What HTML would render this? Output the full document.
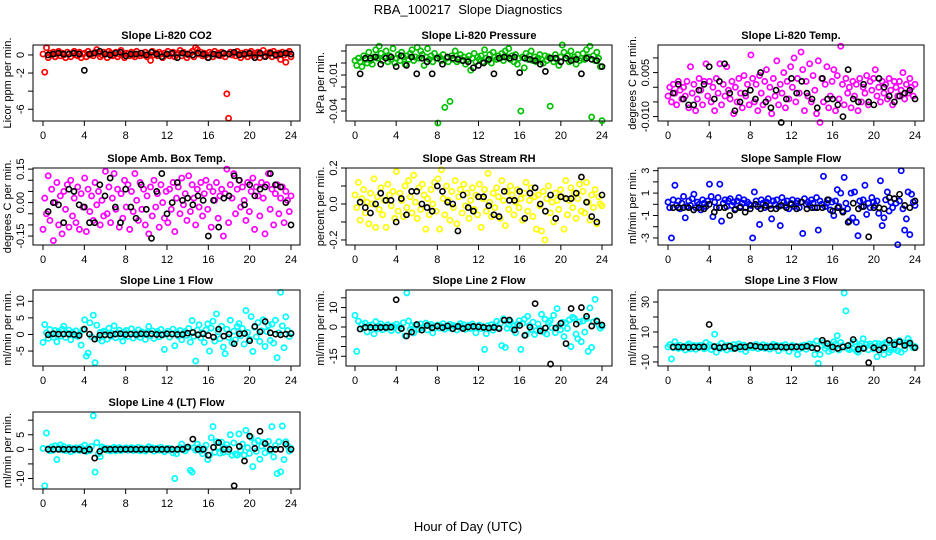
<!DOCTYPE html>
<html><head><meta charset="utf-8"><style>
html,body{margin:0;padding:0;background:#fff;}
svg{display:block;font-family:"Liberation Sans",sans-serif;}
</style></head><body>
<svg id="chart" width="936" height="540" viewBox="0 0 936 540" xmlns="http://www.w3.org/2000/svg">
<rect width="936" height="540" fill="#fff"/>
<text x="468" y="14" text-anchor="middle" font-size="13">RBA_100217&#160; Slope Diagnostics</text>
<text x="468" y="531" text-anchor="middle" font-size="13">Hour of Day (UTC)</text>
</svg>
<script>
const xTicks = [0,4,8,12,16,20,24];
const panelTitles = ["Slope Li-820 CO2","Slope Li-820 Pressure","Slope Li-820 Temp.","Slope Amb. Box Temp.","Slope Gas Stream RH","Slope Sample Flow","Slope Line 1 Flow","Slope Line 2 Flow","Slope Line 3 Flow","Slope Line 4 (LT) Flow"];
const yLabels = ["Licor ppm per min.","kPa per min.","degrees C per min.","degrees C per min.","percent per min.","ml/min per min.","ml/min per min.","ml/min per min.","ml/min per min.","ml/min per min."];
const yTicks = [[0,-2,-4,-6],[0.01,0,-0.01,-0.02,-0.03,-0.04],[0.01,0.005,0,-0.005,-0.01],[0.15,0.1,0.05,0,-0.05,-0.1,-0.15],[0.2,0.1,0,-0.1,-0.2],[3,2,1,0,-1,-2,-3],[10,5,0,-5],[15,10,5,0,-5,-10,-15],[30,20,10,0,-10],[10,5,0,-5,-10]];
const yTickLabels = [["0","-2","","-6"],["","","-0.01","","","-0.04"],["","0.005","","","-0.010"],["0.15","","","0.00","","","-0.15"],["0.2","","0.0","","-0.2"],["3","","1","","-1","","-3"],["10","5","0","-5"],["","10","","0","","","-15"],["30","","10","","-10"],["","5","0","","-10"]];
const yDomains = [[-7.3,1.1],[-0.0483,0.015],[-0.0115,0.0144],[-0.19,0.155],[-0.228,0.2],[-3.63,3.24],[-9.5,13.4],[-20,19],[-12.7,38],[-13.6,12.8]];
const seriesColors = ["#ff0000","#00c000","#ff00ff","#ff00ff","#ffff00","#0000ff","#00ffff","#00ffff","#00ffff","#00ffff"];

const c1 = [0.1,-1.9,0.8,-0.3,0.2,0.0,0.3,-0.2,0.1,0.4,-0.1,0.2,0.0,-0.3,0.3,0.1,-0.2,0.2,0.4,0.0,-0.1,0.3,-0.3,0.1,0.2,-0.2,0.4,0.0,0.1,-0.1,0.3,0.6,0.2,-0.2,0.0,0.3,0.1,-0.3,0.4,0.2,-0.1,0.0,0.3,-0.2,0.1,0.5,0.0,-0.3,0.2,0.1,-0.1,0.3,0.0,-0.2,0.4,0.1,-0.1,0.2,0.0,0.3,-0.2,0.1,-0.6,0.4,0.0,0.2,-0.1,0.3,0.1,-0.3,0.2,0.0,0.4,-0.1,0.1,0.3,-0.2,0.0,0.2,0.5,-0.1,0.3,0.1,-0.3,0.0,0.2,0.4,-0.2,0.8,0.6,0.1,0.3,-0.1,0.2,0.0,-0.3,0.3,0.1,-0.2,0.4,0.0,0.2,-0.1,0.3,0.1,-0.2,-4.3,-7.0,0.3,0.0,0.2,-0.1,0.4,0.1,-0.3,0.2,0.0,0.3,-0.2,0.1,0.4,-0.1,0.2,0.0,0.3,-0.3,0.1,0.5,-0.1,0.2,0.0,0.3,-0.2,0.4,0.1,-0.1,0.2,-0.5,0.3,0.0,-0.8,0.2,0.4,-0.2];
const b1 = [0.0,0.1,0.2,0.1,0.1,0.2,0.1,-1.7,0.1,0.2,0.4,0.1,0.0,0.2,0.3,-0.1,0.1,0.1,0.2,0.0,0.3,0.1,-0.2,0.1,0.2,-0.3,0.2,0.1,0.0,0.2,0.1,-0.3,0.1,0.0,0.2,0.1,0.3,0.0,0.1,0.2,-0.3,0.2,-0.2,0.2,0.0,0.1,0.2,0.1];
const c2 = [0.002,-0.002,0.004,0.001,-0.003,0.006,0.003,0.000,0.009,0.002,-0.001,0.005,0.011,0.004,0.014,0.008,0.002,0.005,0.010,0.001,0.006,0.003,0.012,0.000,0.004,0.007,0.002,0.009,0.005,-0.001,0.006,0.003,0.008,0.011,0.002,0.005,0.013,0.004,0.010,0.007,-0.002,0.005,0.012,0.003,0.006,0.001,0.008,0.004,-0.050,0.005,0.002,0.007,-0.037,0.004,0.001,-0.032,0.006,0.003,0.010,0.001,0.004,0.007,0.002,0.005,-0.001,0.003,0.006,-0.006,0.004,0.008,0.001,0.005,0.003,0.006,0.001,0.011,0.004,0.002,0.007,0.000,0.009,0.005,0.003,0.006,0.004,0.008,0.002,0.010,0.005,0.012,0.003,0.006,0.001,0.007,-0.001,0.004,-0.040,0.005,-0.004,0.008,0.003,0.006,0.010,0.002,0.005,0.001,0.004,0.007,0.003,0.000,0.006,0.002,0.005,-0.036,0.004,0.001,0.007,0.003,-0.002,0.005,0.015,0.009,0.004,0.006,0.001,0.010,0.003,0.005,-0.001,0.007,0.002,0.004,0.008,0.003,0.011,0.005,0.014,-0.045,0.006,0.002,0.009,0.004,-0.003,-0.048];
const b2 = [-0.009,0.004,0.004,0.005,-0.001,0.004,0.005,-0.003,0.006,-0.002,0.005,-0.009,0.004,0.001,-0.009,0.004,-0.001,0.005,0.004,0.003,0.002,0.001,-0.004,-0.002,0.000,0.003,-0.009,0.004,0.005,0.004,0.005,-0.008,0.004,0.003,0.002,-0.001,-0.007,0.004,0.004,0.001,0.004,0.002,0.003,-0.009,0.004,0.003,0.002,-0.003];
const c3 = [-0.003,0.000,-0.005,0.001,-0.002,-0.006,0.002,-0.001,-0.004,0.000,-0.003,0.002,-0.007,0.007,-0.002,0.001,-0.008,-0.004,0.003,-0.001,-0.006,0.002,0.008,-0.003,0.002,-0.005,0.000,-0.008,0.003,-0.002,0.008,-0.006,0.001,-0.003,0.007,-0.001,-0.004,0.002,-0.009,0.000,-0.005,0.003,-0.002,-0.007,0.004,-0.003,0.001,-0.006,0.011,0.003,-0.005,0.001,-0.008,0.004,-0.002,-0.006,0.002,0.006,-0.004,0.000,-0.009,0.003,-0.003,0.009,-0.006,0.001,-0.002,0.005,-0.007,0.002,-0.004,0.007,0.000,0.010,-0.005,0.003,-0.002,0.012,0.006,-0.008,0.002,-0.003,0.008,-0.005,0.004,-0.001,-0.009,0.009,-0.012,0.003,-0.005,0.001,0.007,-0.007,-0.003,0.002,0.006,-0.008,0.004,-0.004,0.014,0.001,-0.006,0.003,-0.002,0.000,-0.007,0.002,-0.003,0.001,-0.008,0.003,-0.005,0.000,-0.002,0.004,-0.006,0.002,-0.001,0.003,0.006,-0.003,0.000,-0.005,0.002,-0.002,0.001,-0.004,0.003,-0.001,-0.006,0.002,0.000,-0.003,0.002,-0.001,0.005,-0.004,0.001,-0.002,0.003,0.000,-0.003,0.001];
const b3 = [-0.002,0.001,-0.004,-0.006,-0.006,-0.001,0.001,0.007,-0.004,0.002,0.008,-0.002,-0.008,-0.005,-0.002,-0.001,-0.004,0.005,-0.005,-0.007,-0.001,-0.012,-0.004,0.003,-0.002,0.002,-0.002,-0.004,-0.007,0.003,-0.004,-0.004,-0.006,-0.010,0.006,-0.004,-0.005,0.001,-0.005,-0.006,0.003,0.000,-0.003,-0.005,-0.003,-0.002,-0.001,-0.004];
const c4 = [-0.12,0.02,-0.05,0.12,-0.08,0.06,-0.17,0.00,0.09,-0.10,0.03,-0.14,0.05,-0.03,0.08,-0.11,0.10,-0.06,0.02,-0.09,0.07,-0.12,0.04,-0.02,0.11,-0.13,0.06,-0.04,0.03,-0.08,0.09,-0.01,0.05,-0.10,0.01,-0.06,0.14,-0.05,0.07,-0.09,0.02,0.13,-0.03,0.06,-0.11,0.04,-0.07,0.10,-0.02,0.08,-0.12,0.05,-0.04,0.13,0.01,-0.08,0.09,-0.03,0.06,-0.10,0.03,-0.14,0.07,-0.06,0.10,-0.02,0.04,-0.11,0.08,0.00,-0.07,0.05,-0.09,0.06,-0.03,0.09,-0.13,0.02,0.07,-0.05,0.11,-0.01,0.04,-0.08,0.12,-0.04,0.08,0.02,-0.10,0.06,-0.02,0.09,-0.06,0.04,0.10,-0.03,0.07,-0.11,0.05,0.01,0.09,-0.07,0.03,0.06,-0.15,0.04,0.15,-0.09,0.08,0.02,0.13,-0.05,0.06,0.10,-0.02,0.07,0.01,-0.08,0.09,-0.04,0.05,0.11,-0.12,0.07,0.03,-0.06,0.09,0.02,-0.14,0.08,0.13,-0.03,0.06,-0.10,0.04,0.08,-0.05,0.02,0.07,-0.09,0.05,0.01,-0.04,0.03];
const b4 = [-0.04,0.00,-0.01,-0.09,0.06,0.05,-0.01,-0.02,-0.09,-0.09,0.08,0.03,0.11,-0.02,-0.09,0.06,-0.02,-0.07,0.08,-0.03,-0.16,0.05,0.13,-0.05,0.00,0.09,0.01,0.02,-0.01,0.03,0.01,-0.15,0.01,-0.11,0.02,0.03,0.12,0.10,-0.01,0.08,0.03,0.06,0.07,0.13,0.08,0.07,0.00,-0.10];
const c5 = [0.05,-0.02,0.12,-0.09,0.03,0.08,-0.05,0.01,-0.11,0.06,0.00,0.14,-0.13,0.04,-0.03,0.09,-0.06,0.02,-0.13,0.11,0.05,-0.01,0.07,-0.08,0.18,-0.04,0.06,0.02,-0.07,0.10,-0.02,0.13,0.04,-0.05,0.16,0.01,-0.08,0.09,-0.03,0.11,0.05,-0.14,0.03,-0.06,0.08,0.00,0.12,-0.04,0.14,-0.14,0.19,0.03,-0.06,0.10,0.02,-0.09,0.07,-0.02,0.13,-0.11,0.04,0.08,-0.05,0.11,-0.01,0.06,-0.08,0.02,0.09,-0.03,0.05,-0.06,0.11,-0.13,0.03,0.08,-0.04,0.17,0.01,-0.07,0.06,-0.02,0.09,0.04,-0.08,0.13,0.02,-0.12,0.07,-0.03,0.10,0.05,-0.06,0.01,0.08,-0.02,0.03,-0.09,0.06,0.12,-0.04,0.02,0.09,-0.07,0.04,-0.14,0.05,-0.01,-0.15,0.07,-0.20,0.03,0.10,-0.05,0.01,-0.10,0.06,0.02,-0.03,0.08,0.04,-0.14,0.13,-0.06,0.02,0.09,-0.02,0.06,-0.08,0.03,0.11,-0.04,0.07,-0.05,0.12,0.01,-0.09,0.05,-0.02,0.08,-0.11,0.04,0.00,-0.01];
const b5 = [0.01,-0.02,-0.05,0.00,0.06,0.02,0.02,-0.10,0.03,-0.06,0.07,0.07,0.00,-0.02,-0.04,0.10,0.07,0.01,0.00,-0.15,0.05,-0.02,-0.04,0.04,0.04,-0.01,-0.06,-0.07,0.07,0.02,0.02,0.07,-0.08,0.06,0.09,0.00,-0.04,0.05,-0.08,0.04,0.03,0.03,0.06,0.15,0.01,-0.07,-0.10,0.05];
const c6 = [0.2,-0.3,-3.0,0.4,1.7,-0.1,0.3,-0.4,0.1,0.7,-1.2,-0.2,0.3,-0.1,0.5,0.9,-0.3,0.2,0.0,-0.5,0.4,0.1,-0.2,0.3,1.8,0.7,-1.1,0.2,-0.3,0.6,1.8,-1.5,0.1,0.4,-0.2,0.3,0.5,-0.1,0.2,-0.4,0.3,0.6,-0.2,0.1,0.4,-0.3,0.2,0.0,-0.1,-3.0,1.1,0.3,-0.2,-1.8,0.4,0.1,-0.3,0.2,0.5,-0.1,-1.3,0.3,0.0,0.4,-0.2,-1.9,0.6,0.2,-0.1,0.3,-0.4,0.1,0.4,-0.2,0.1,0.3,-0.3,0.2,-2.6,0.5,0.0,0.2,-0.1,0.4,0.1,-0.3,0.6,-2.3,0.3,0.0,2.5,-0.2,0.1,0.4,-0.5,0.2,-1.0,0.3,1.3,-0.2,1.0,-0.6,2.4,0.1,-0.4,-1.5,1.0,-1.2,1.1,-1.6,-2.8,0.3,-0.2,0.4,1.7,-0.9,0.1,-0.3,0.6,0.2,-0.1,0.3,-0.8,2.1,-1.9,-1.2,0.4,1.1,-0.6,0.2,-0.3,0.5,0.1,-3.6,0.3,3.0,-0.4,-2.3,-1.3,1.1,-2.7,0.9,0.2,-0.1];
const b6 = [-0.3,-0.3,-0.3,-0.3,-0.5,-0.3,-0.4,0.0,-0.7,-0.3,-0.3,-1.0,-0.5,-0.3,-0.7,-0.4,0.0,-0.4,-0.1,-0.4,-0.4,-0.1,-0.3,0.0,-0.4,0.2,-0.4,-0.3,-0.3,-0.3,0.4,-0.6,-0.3,-0.7,-1.6,0.1,-0.4,-0.2,-2.9,-0.3,-0.3,-0.4,0.6,0.5,0.9,-0.1,-0.3,0.3];
const c7 = [-2.4,3.0,0.5,-1.2,1.5,0.0,-0.8,1.2,-2.2,0.9,-0.5,1.6,2.5,-0.9,0.4,1.3,-1.6,0.7,-0.3,1.1,-0.6,0.2,-3.2,1.4,4.4,-6.5,-5.6,3.5,-0.7,5.8,-8.5,2.8,-1.2,0.6,-2.0,1.0,0.8,-1.4,1.9,-0.5,0.3,2.6,-1.0,0.5,1.3,-0.8,-2.0,0.7,1.2,-0.6,0.3,1.7,-1.1,0.5,-0.3,1.4,-0.9,0.8,0.1,-1.5,0.6,2.4,-0.4,1.1,-1.2,0.3,0.9,-0.7,1.5,-0.2,-4.5,0.4,1.0,-0.8,0.3,1.6,-3.4,0.7,-0.5,1.2,-1.6,0.4,0.9,-0.3,1.8,-2.3,4.2,-0.6,-8.0,1.3,2.9,-1.0,0.5,-2.4,1.4,3.2,-5.0,1.9,4.0,-2.0,6.2,0.8,-1.3,2.5,-3.8,-5.8,1.6,-0.9,4.3,-2.5,1.0,-1.6,2.4,3.3,-0.4,1.8,-2.9,7.2,0.6,-1.4,5.4,-5.1,2.2,-0.7,3.6,-2.1,1.1,4.4,-3.6,0.9,2.7,-1.8,3.1,-2.6,4.3,-7.0,0.5,12.7,2.6,-4.0,5.3,1.2,-0.6,0.3];
const b7 = [-0.1,0.2,0.1,0.1,0.1,0.0,-0.3,1.6,0.1,-1.4,-0.2,-0.1,-0.2,0.1,0.2,0.0,0.1,0.0,0.2,0.1,0.2,0.0,-0.1,0.2,0.1,0.0,0.0,0.4,0.6,-0.1,0.2,-0.3,-0.8,1.6,-0.5,0.1,-2.8,0.2,0.3,-1.9,2.4,0.8,3.9,0.5,0.1,-0.1,0.1,0.3];
const c8 = [6.0,-12.5,3.0,-1.0,1.5,-0.5,2.0,-2.5,0.8,-0.3,1.2,-3.5,2.8,-0.9,0.5,1.6,-1.4,0.3,-0.6,1.1,0.2,-1.8,0.7,-0.2,1.4,-1.7,0.5,-0.8,2.2,-4.5,17.5,3.1,-1.2,0.6,-3.0,1.0,0.8,-1.2,1.6,-0.4,0.3,2.0,-1.5,0.5,1.3,-3.0,-0.6,0.7,1.0,-0.6,0.3,1.7,-1.1,0.5,-0.3,1.4,-0.9,0.8,0.1,-1.5,0.6,1.8,-0.4,1.1,-1.2,0.3,0.9,-0.7,1.5,-0.2,-3.0,0.4,1.0,-0.8,0.3,-11.5,-3.4,0.7,-0.5,1.2,-1.6,0.4,2.9,-0.3,1.8,-9.5,4.2,-10.5,-0.6,1.3,2.9,-1.0,0.5,-3.0,1.4,3.2,-11.5,1.9,4.0,-4.0,5.5,0.8,-1.3,2.5,-3.8,-1.8,1.6,-0.9,6.5,-2.5,4.0,-3.6,2.4,3.3,-0.4,6.0,-2.9,9.5,0.6,-1.4,2.4,-4.9,2.2,-0.7,3.6,-10.0,5.0,4.4,-3.6,-6.0,2.7,-7.5,3.1,-2.6,4.3,-12.5,9.8,-10.5,2.6,14.2,3.3,1.2,-0.6,0.3];
const b8 = [-1.0,-0.2,-0.2,-0.3,-0.2,-0.2,-0.1,14.0,-0.8,-4.6,-2.6,1.3,-1.6,0.8,-0.4,0.5,-0.3,0.6,-0.9,0.3,-0.8,0.0,0.3,0.1,-0.2,-0.5,-0.2,-0.8,3.5,3.6,-1.5,0.8,-4.3,-0.1,12.0,-2.0,-0.5,-19.0,-0.5,1.9,-8.5,9.5,1.5,10.0,5.5,0.5,3.0,1.0];
const c9 = [0.0,1.5,-8.0,-0.5,3.5,0.8,-1.0,1.2,-0.6,0.3,-2.0,1.0,2.0,-1.3,0.4,1.0,-1.6,0.7,-0.3,1.1,0.2,-1.2,3.0,-0.2,1.4,-1.7,0.5,8.5,-3.5,0.6,-1.2,2.5,-0.5,0.6,-2.0,1.0,0.8,-1.2,1.6,-0.4,0.3,2.0,-1.5,0.5,1.3,-3.0,-0.6,0.7,1.0,-0.6,0.3,1.7,-1.1,0.5,-0.3,1.4,-0.9,0.8,0.1,-1.5,0.6,1.8,-0.4,1.1,-2.5,0.3,0.9,-0.7,1.5,-0.2,-3.0,0.4,1.0,-0.8,0.3,-5.0,-1.4,0.7,-0.5,1.2,-1.6,0.4,2.0,-0.3,1.8,-5.0,4.0,-11.0,-5.0,1.3,2.9,-1.0,0.5,-3.0,1.4,-2.0,3.5,1.9,7.5,-2.0,3.0,0.8,36.0,24.0,-1.0,-1.8,1.6,-0.9,3.5,-2.5,-3.5,1.0,2.4,5.5,-0.4,1.8,-1.9,2.0,0.6,-1.4,2.4,-6.5,2.2,-0.7,1.6,-5.0,3.0,2.4,-3.6,-2.0,2.7,-1.5,3.1,-2.6,4.3,-3.5,2.8,-1.5,2.6,5.5,3.3,1.2,-0.6,0.3];
const b9 = [0.0,0.0,0.0,-0.2,0.0,0.0,0.1,15.0,0.2,-0.5,0.0,0.5,-1.0,0.1,0.0,1.0,0.5,0.0,-0.2,0.1,0.2,0.0,-0.2,0.0,0.1,-0.1,0.5,-0.5,-1.0,4.5,2.3,0.0,-1.0,0.0,1.0,5.0,-1.5,-1.0,-10.5,-0.5,-2.0,-0.5,4.5,1.5,3.5,1.0,2.5,-0.5];
const c10 = [0.3,-12.5,5.6,0.2,-0.5,0.8,-0.3,1.2,-3.5,0.5,1.5,-0.2,0.9,-0.4,0.3,0.6,-0.8,0.2,-0.3,0.5,0.1,-0.4,0.7,0.0,1.4,-0.7,0.5,-0.4,1.0,11.5,-7.8,2.3,-1.5,-2.5,0.8,0.3,0.4,-0.3,0.2,-0.6,0.3,0.7,-0.5,0.2,0.6,-0.4,-0.2,0.3,0.5,-0.3,0.2,0.6,-0.4,0.3,-0.2,0.7,-0.5,0.4,0.1,-0.6,0.3,0.9,-0.2,0.5,-0.6,0.2,0.4,-0.3,0.7,-0.1,-0.8,0.2,0.4,-0.3,0.2,-1.2,-10.0,-1.5,-0.2,0.6,1.8,0.2,-0.5,0.3,0.7,-7.2,-7.8,0.5,-0.3,1.8,0.6,-0.4,-1.5,0.2,1.4,-3.5,-2.0,4.0,7.8,-1.0,2.6,0.8,-1.3,2.5,-1.0,0.5,1.6,-0.9,5.0,-2.0,2.2,-1.6,-2.0,5.3,-0.4,1.8,-2.0,6.5,0.6,-1.4,4.1,-5.9,2.2,-0.7,3.0,-3.4,1.1,2.4,-1.2,0.9,2.7,-0.6,7.8,-2.6,1.3,-8.3,2.6,-7.7,8.0,-3.5,2.6,1.2,-0.6,0.3];
const b10 = [0.0,0.0,0.0,0.0,0.0,0.0,0.0,-0.5,0.0,-3.0,-0.7,0.0,0.0,0.0,0.0,0.0,0.0,0.0,0.0,0.0,0.0,0.0,0.0,0.0,0.0,0.0,0.0,0.8,3.5,0.0,0.0,-2.0,0.7,2.3,0.0,0.0,-12.5,1.0,-4.0,4.5,0.3,6.2,2.0,0.0,0.0,0.0,1.8,0.0];

const coloredSeries = [c1,c2,c3,c4,c5,c6,c7,c8,c9,c10];
const blackSeries = [b1,b2,b3,b4,b5,b6,b7,b8,b9,b10];

const colBox = [[33,300],[346,612],[658,924]];
const colX = [[43,291],[355,602],[668,915]];
const rowBox = [[45,121],[168,245],[290,366],[412,489]];
const NS = "http://www.w3.org/2000/svg";
const svg = document.getElementById('chart');
function mk(tag, attrs, parent){
  const e = document.createElementNS(NS, tag);
  for (const k in attrs) e.setAttribute(k, attrs[k]);
  (parent||svg).appendChild(e);
  return e;
}
for (let p = 0; p < 10; p++){
  const col = p % 3, row = Math.floor(p / 3);
  const [bx0,bx1] = colBox[col], [by0,by1] = rowBox[row];
  const [px0,px1] = colX[col];
  const [ymin,ymax] = yDomains[p];
  const xs = h => px0 + (px1 - px0) * h / 24;
  const ys = v => by1 - (by1 - by0) * (v - ymin) / (ymax - ymin);
  const g = mk('g', {});
  
  
  const t = mk('text', {x:(bx0+bx1)/2, y:by0-6, 'text-anchor':'middle', 'font-size':11, 'font-weight':'bold'}, g);
  t.textContent = panelTitles[p];
  
  
  const yl = mk('text', {x:0, y:0, 'text-anchor':'middle', 'font-size':11, transform:`translate(${bx0-22},${(by0+by1)/2}) rotate(-90)`}, g);
  yl.textContent = yLabels[p];
  
  
  const xa = mk('g', {stroke:'#000','stroke-width':1}, g);
  
  
  xTicks.forEach(v => {
    mk('line', {x1:xs(v), x2:xs(v), y1:by1, y2:by1+5}, xa);
    const tl = mk('text', {x:xs(v), y:by1+18, 'text-anchor':'middle', 'font-size':11, stroke:'none', fill:'#000'}, g);
    tl.textContent = v;
    
    
  });
  const ya = mk('g', {stroke:'#000','stroke-width':1}, g);
  
  
  yTicks[p].forEach((v,i) => {
    mk('line', {x1:bx0-5, x2:bx0, y1:ys(v), y2:ys(v)}, ya);
    if (yTickLabels[p][i]) {
      const tl = mk('text', {x:0, y:0, 'text-anchor':'middle', 'font-size':11, transform:`translate(${bx0-9},${ys(v)}) rotate(-90)`}, g);
      tl.textContent = yTickLabels[p][i];
      
      
    }
  });
  const cs = coloredSeries[p];
  const cg = mk('g', {fill:'none', stroke:seriesColors[p], 'stroke-width':1.7}, g);
  
  
  cs.forEach((v,i) => {
    const c = mk('circle', {cx:xs(i*24/(cs.length-1)), cy:ys(v), r:2.6}, cg);
    
    
  });
  const bs = blackSeries[p];
  const bg = mk('g', {fill:'none', stroke:'#000', 'stroke-width':1.6}, g);
  
  
  bs.forEach((v,j) => {
    const c = mk('circle', {cx:xs(0.5 + j*23.5/(bs.length-1)), cy:ys(v), r:2.6}, bg);
    
    
  });
  const box = mk('rect', {x:bx0, y:by0, width:bx1-bx0, height:by1-by0, fill:'none', stroke:'#000', 'stroke-width':1}, g);
  
  
}
</script>
</body></html>
